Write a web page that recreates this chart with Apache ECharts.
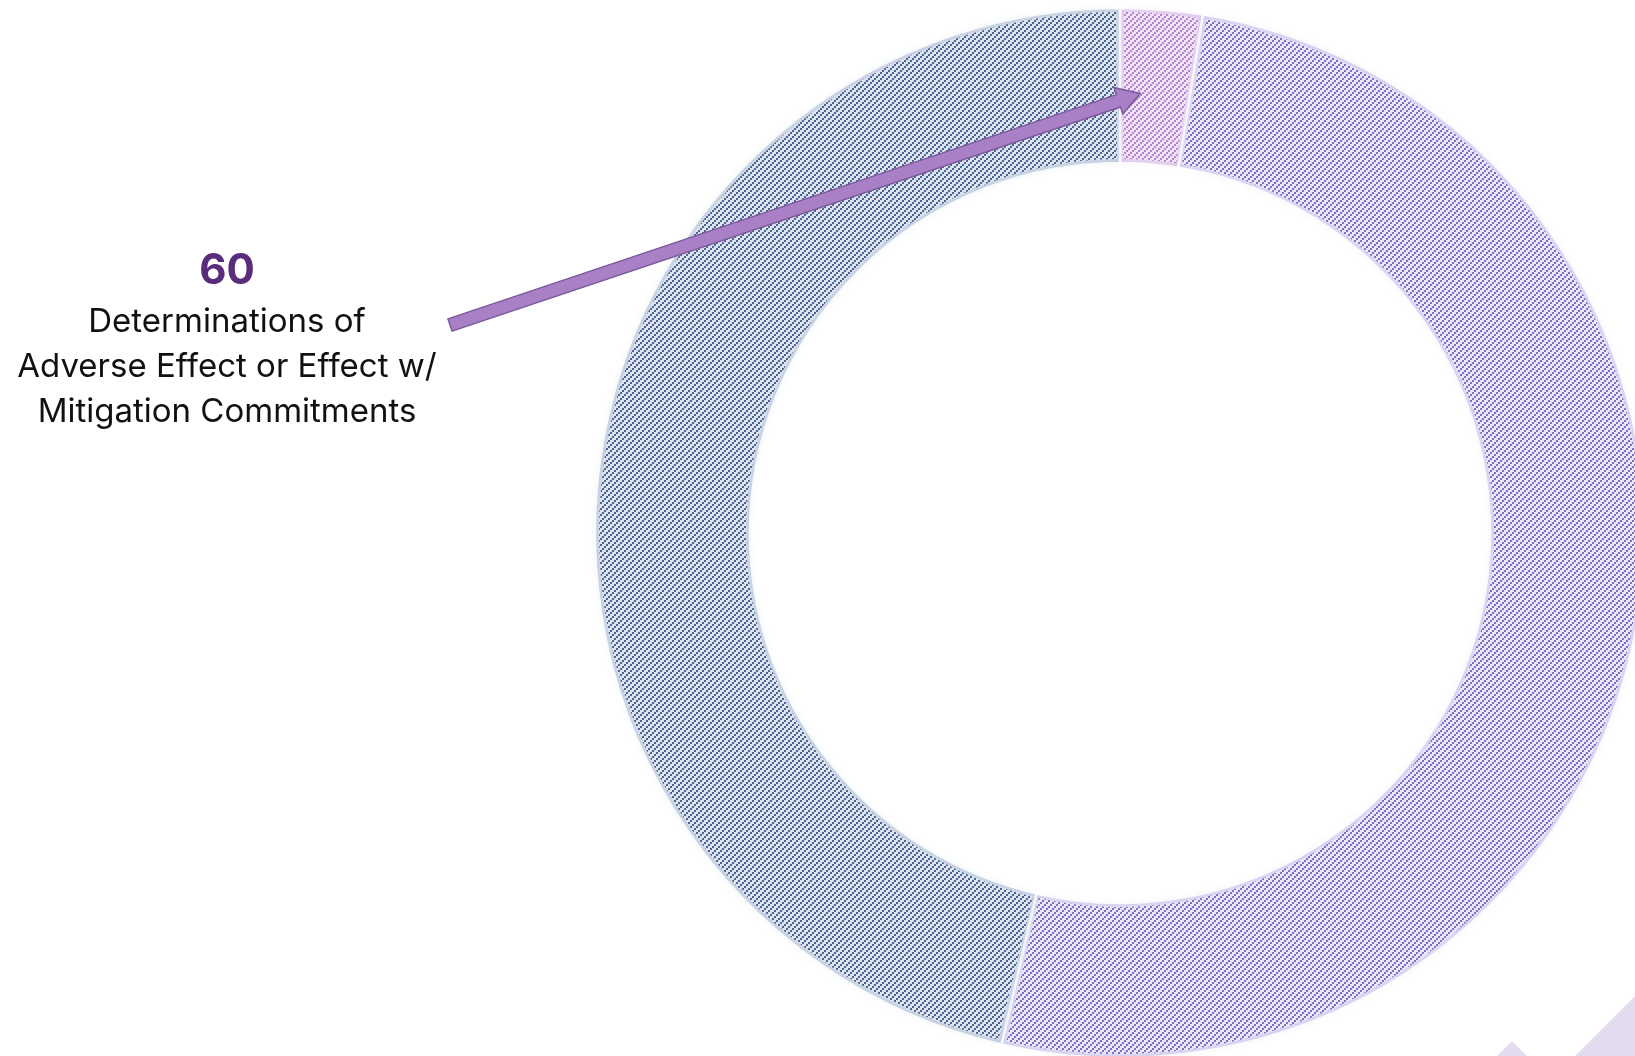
<!DOCTYPE html>
<html>
<head>
<meta charset="utf-8">
<script src="https://cdn.jsdelivr.net/npm/echarts@6/dist/echarts.min.js"></script>
<style>
  html, body { margin: 0; padding: 0; background: #ffffff; }
  #chart { width: 1635px; height: 1056px; }
</style>
</head>
<body>
<div id="chart"></div>
<script>
// ---- data ----
const categories = [
  'Determinations of Adverse Effect or Effect w/ Mitigation Commitments',
  'Other determinations (right)',
  'Other determinations (left)'
];
const values = [60, 1213, 1101];
const calloutValue = '60';
const calloutLines = ['Determinations of', 'Adverse Effect or Effect w/', 'Mitigation Commitments'];

// ---- styles ----
const bgColors = ['#f0e3f6', '#e9e7f8', '#dde4ee'];
const lineColors = ['#b382d0', '#7b6fc9', '#4a6595'];
const edgeColors = ['#dcc4ea', '#cfc9ee', '#bcc8db'];

function makeHatch(bg, fg) {
  const n = 6;
  const c = document.createElement('canvas');
  c.width = n; c.height = n;
  const ctx = c.getContext('2d');
  ctx.fillStyle = bg;
  ctx.fillRect(0, 0, n, n);
  ctx.fillStyle = fg;
  for (let k = 0; k < 3; k++) {
    ctx.fillRect(2 * k, 4 - 2 * k, 2, 2);
  }
  return { image: c, repeat: 'repeat' };
}

const center = [1120, 533];
const rIn = 370, rOut = 525;

const chart = echarts.init(document.getElementById('chart'), null, { renderer: 'canvas' });

const baseData = categories.map((name, i) => ({
  name, value: values[i],
  itemStyle: { color: edgeColors[i] }
}));
const patData = categories.map((name, i) => ({
  name, value: values[i],
  itemStyle: {
    color: makeHatch(bgColors[i], lineColors[i]),
    shadowBlur: 10,
    shadowColor: bgColors[i]
  }
}));

// arrow geometry computed from the pie layout
const total = values.reduce((a, b) => a + b, 0);
const tipAngle = (values[0] / total) * 2 * Math.PI * 0.29; // from 12 o'clock, clockwise
const tipR = 440;
const tip = [center[0] + tipR * Math.sin(tipAngle), center[1] - tipR * Math.cos(tipAngle)];
const tail = [450, 325];
const dx = tip[0] - tail[0], dy = tip[1] - tail[1];
const len = Math.sqrt(dx * dx + dy * dy);
const ux = dx / len, uy = dy / len;
const px = -uy, py = ux;
const shaftHalf = 6.5, headHalf = 14, headLen = 23;
function pt(a, b) { return [tail[0] + ux * a + px * b, tail[1] + uy * a + py * b]; }
const arrowPts = [
  pt(0, -shaftHalf), pt(len - headLen, -shaftHalf), pt(len - headLen, -headHalf),
  pt(len, 0),
  pt(len - headLen, headHalf), pt(len - headLen, shaftHalf), pt(0, shaftHalf)
];

const textX = 227;
const fontFam = 'Inter, "Open Sans", "Noto Sans", sans-serif';
const lineY = [322, 367, 412];

chart.setOption({
  animation: false,
  backgroundColor: '#ffffff',
  series: [
    {
      type: 'pie',
      silent: true,
      center: center,
      radius: [rIn, rOut],
      startAngle: 90,
      clockwise: true,
      label: { show: false },
      labelLine: { show: false },
      itemStyle: { borderColor: '#ffffff', borderWidth: 2.5 },
      data: baseData,
      z: 1
    },
    {
      type: 'pie',
      silent: true,
      center: center,
      radius: [rIn + 4, rOut - 4],
      startAngle: 90,
      clockwise: true,
      padAngle: 0.9,
      label: { show: false },
      labelLine: { show: false },
      data: patData,
      z: 2
    }
  ],
  graphic: [
    {
      type: 'polygon', z: 100,
      shape: { points: [[1575, 1056], [1635, 996], [1635, 1056]] },
      style: { fill: '#e5dbef' }
    },
    {
      type: 'polygon', z: 100,
      shape: { points: [[1497, 1056], [1512, 1041], [1527, 1056]] },
      style: { fill: '#e5dbef' }
    },
    {
      type: 'polygon', z: 100,
      shape: { points: arrowPts },
      style: { fill: '#a980c5', stroke: '#7a5a9c', lineWidth: 1.5, lineJoin: 'miter' }
    },
    {
      type: 'text', z: 100,
      x: textX, y: 271,
      style: {
        text: calloutValue, fill: '#5a2d7c',
        font: 'bold 42px ' + fontFam,
        align: 'center', verticalAlign: 'middle'
      }
    }
  ].concat(calloutLines.map((t, i) => ({
    type: 'text', z: 100,
    x: textX, y: lineY[i],
    style: {
      text: t, fill: '#111111',
      font: '33px ' + fontFam, align: 'center', verticalAlign: 'middle'
    }
  })))
});
</script>
</body>
</html>
